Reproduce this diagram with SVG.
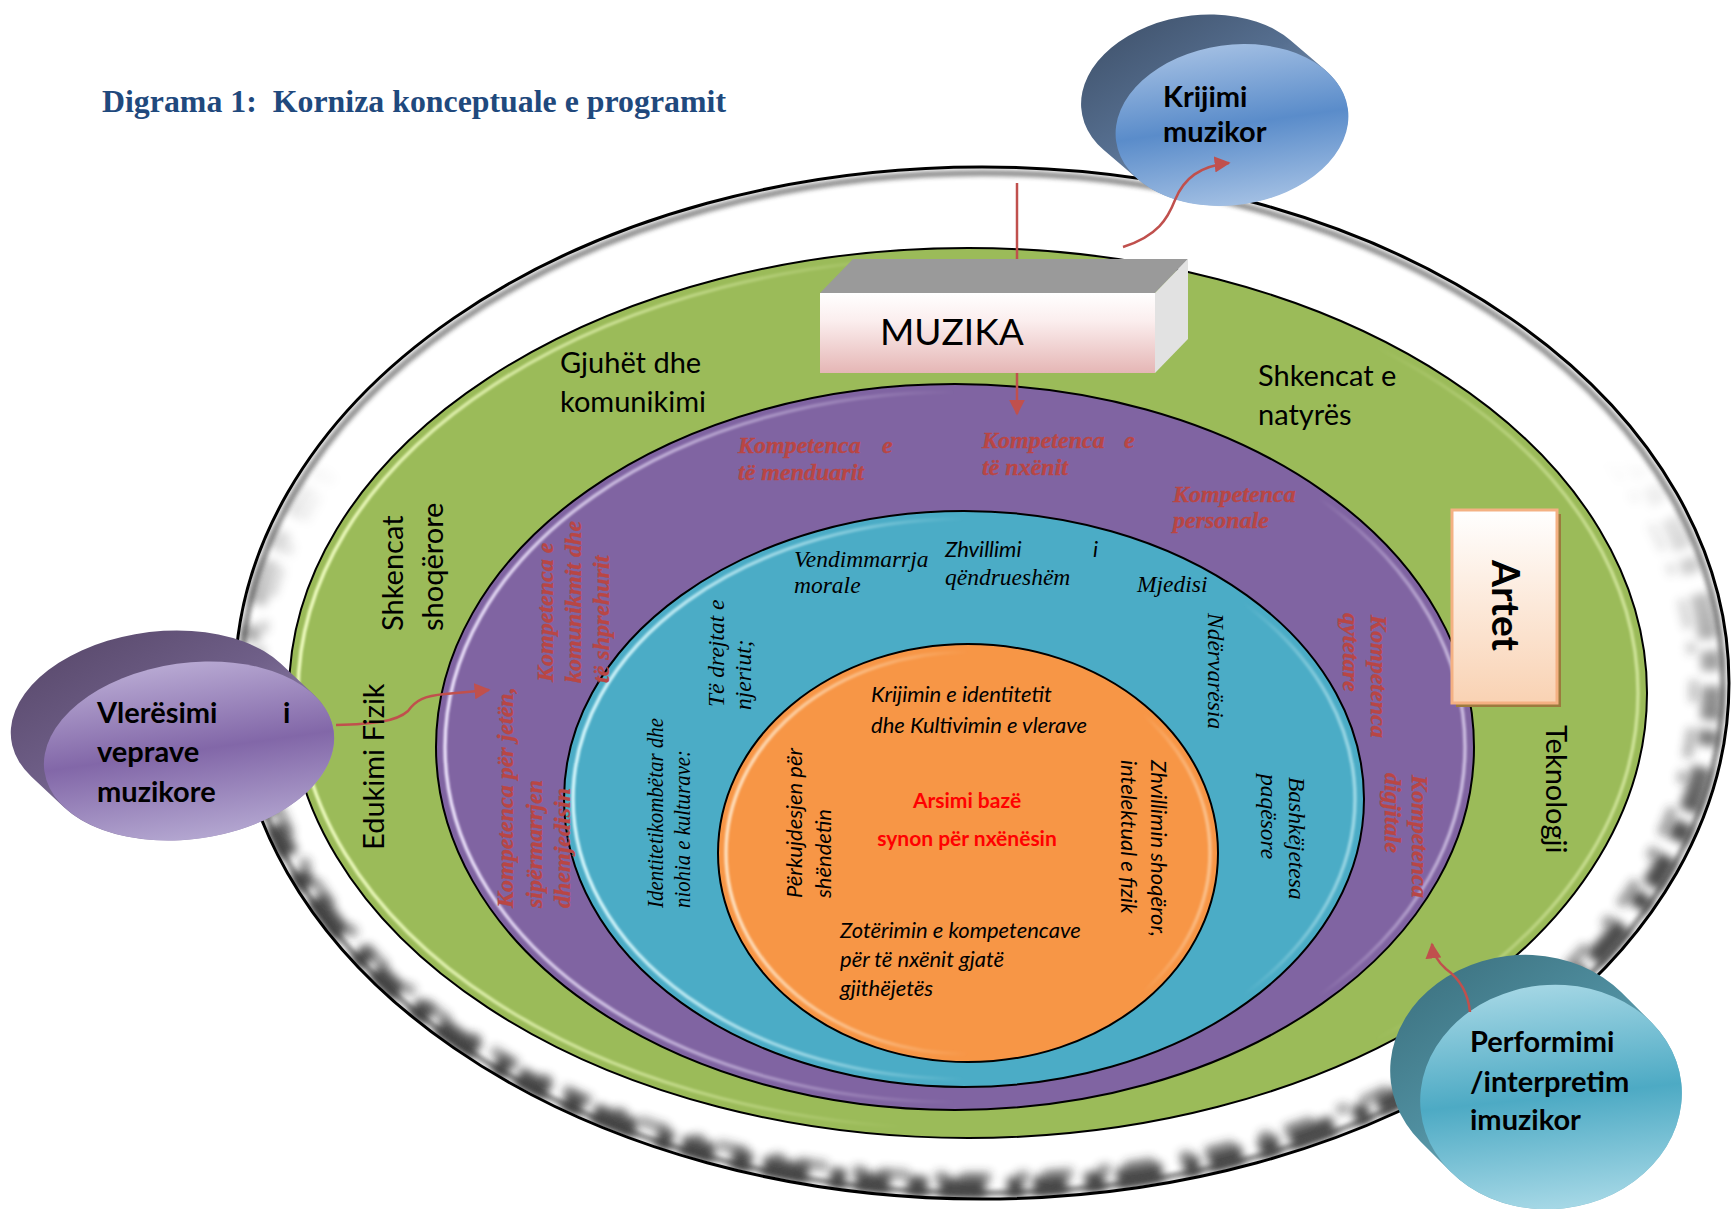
<svg xmlns="http://www.w3.org/2000/svg" width="1733" height="1209" viewBox="0 0 1733 1209">
<defs>
<style>
.lbl{font-family:Lato,"Open Sans","Liberation Sans",sans-serif;font-size:29px;fill:#000}
.comp{font-family:"Liberation Serif","Times New Roman",serif;font-style:italic;font-weight:bold;font-size:24px;fill:#B94644;stroke:#B94644;stroke-width:0.35px}
.val{font-family:"Liberation Serif","Times New Roman",serif;font-style:italic;font-size:23.5px;fill:#000}
.core{font-family:Lato,"Open Sans",sans-serif;font-style:italic;font-size:22px;fill:#000}
.core-red{font-family:Lato,"Open Sans",sans-serif;font-weight:bold;font-size:21px;fill:#FF0000;text-anchor:middle}
.node{font-family:Lato,"Open Sans",sans-serif;font-weight:bold;font-size:29px;fill:#000}
.ring{stroke:#000;stroke-width:2}
.conn{fill:none;stroke:#C0504D;stroke-width:2.5}
.hl{fill:none;stroke-width:3.5}
</style>
<filter id="b2" x="-5%" y="-5%" width="110%" height="110%"><feGaussianBlur stdDeviation="2"/></filter>
<filter id="b5" x="-5%" y="-5%" width="110%" height="110%"><feGaussianBlur stdDeviation="5"/></filter>
<filter id="b1" x="-5%" y="-5%" width="110%" height="110%"><feGaussianBlur stdDeviation="1.2"/></filter>
<clipPath id="outerClip"><ellipse cx="982" cy="683" rx="746" ry="515"/></clipPath>
<linearGradient id="maskGrad" gradientUnits="userSpaceOnUse" x1="0" y1="0" x2="0" y2="1209">
<stop offset="0" stop-color="#000"/><stop offset="0.38" stop-color="#000"/><stop offset="0.7" stop-color="#fff"/><stop offset="1" stop-color="#fff"/>
</linearGradient>
<mask id="lowerMask" maskUnits="userSpaceOnUse" x="0" y="0" width="1733" height="1209"><rect width="1733" height="1209" fill="url(#maskGrad)"/></mask>
<linearGradient id="hlG" gradientUnits="userSpaceOnUse" x1="289" y1="0" x2="1647" y2="0">
<stop offset="0" stop-color="#F2FFC4" stop-opacity="0.95"/><stop offset="0.25" stop-color="#F2FFC4" stop-opacity="0.5"/><stop offset="0.45" stop-color="#F2FFC4" stop-opacity="0"/><stop offset="0.8" stop-color="#F2FFC4" stop-opacity="0"/><stop offset="1" stop-color="#F2FFC4" stop-opacity="0.6"/>
</linearGradient>
<linearGradient id="hlP" gradientUnits="userSpaceOnUse" x1="436" y1="0" x2="1474" y2="0">
<stop offset="0" stop-color="#F1E8FF" stop-opacity="0.95"/><stop offset="0.3" stop-color="#F1E8FF" stop-opacity="0.4"/><stop offset="0.5" stop-color="#F1E8FF" stop-opacity="0"/><stop offset="0.85" stop-color="#F1E8FF" stop-opacity="0"/><stop offset="1" stop-color="#F1E8FF" stop-opacity="0.7"/>
</linearGradient>
<linearGradient id="hlB" gradientUnits="userSpaceOnUse" x1="564" y1="0" x2="1364" y2="0">
<stop offset="0" stop-color="#DDFBFF" stop-opacity="0.95"/><stop offset="0.3" stop-color="#DDFBFF" stop-opacity="0.5"/><stop offset="0.5" stop-color="#DDFBFF" stop-opacity="0"/><stop offset="0.85" stop-color="#DDFBFF" stop-opacity="0"/><stop offset="1" stop-color="#DDFBFF" stop-opacity="0.6"/>
</linearGradient>
<linearGradient id="hlO" gradientUnits="userSpaceOnUse" x1="718" y1="0" x2="1218" y2="0">
<stop offset="0" stop-color="#FFE6C8" stop-opacity="0.95"/><stop offset="0.3" stop-color="#FFE6C8" stop-opacity="0.4"/><stop offset="0.5" stop-color="#FFE6C8" stop-opacity="0"/><stop offset="0.85" stop-color="#FFE6C8" stop-opacity="0"/><stop offset="1" stop-color="#FFE6C8" stop-opacity="0.6"/>
</linearGradient>
<linearGradient id="muzG" x1="0" y1="0" x2="0" y2="1">
<stop offset="0" stop-color="#FFFFFF"/><stop offset="0.35" stop-color="#FBEEEE"/><stop offset="1" stop-color="#E5B6B5"/>
</linearGradient>
<linearGradient id="artG" x1="0" y1="0" x2="0" y2="1">
<stop offset="0" stop-color="#FFFFFF"/><stop offset="1" stop-color="#F9D2B3"/>
</linearGradient>
<linearGradient id="kSide" x1="0" y1="0" x2="0.6" y2="1">
<stop offset="0" stop-color="#3E5069"/><stop offset="0.5" stop-color="#566F90"/><stop offset="1" stop-color="#8AA4C6"/>
</linearGradient>
<linearGradient id="kFront" x1="0" y1="0" x2="0" y2="1">
<stop offset="0" stop-color="#A0BDE2"/><stop offset="0.5" stop-color="#5A8CCA"/><stop offset="1" stop-color="#A2BFE3"/>
</linearGradient>
<linearGradient id="vSide" x1="0" y1="0" x2="0.6" y2="1">
<stop offset="0" stop-color="#574769"/><stop offset="0.5" stop-color="#6F5F88"/><stop offset="1" stop-color="#9D8FB8"/>
</linearGradient>
<linearGradient id="vFront" x1="0" y1="0" x2="0" y2="1">
<stop offset="0" stop-color="#B7A8D2"/><stop offset="0.5" stop-color="#8267A8"/><stop offset="1" stop-color="#B3A6D0"/>
</linearGradient>
<linearGradient id="pSide" x1="0" y1="0" x2="0.6" y2="1">
<stop offset="0" stop-color="#3A6E7C"/><stop offset="0.5" stop-color="#4F8E9F"/><stop offset="1" stop-color="#86C0CF"/>
</linearGradient>
<linearGradient id="pFront" x1="0" y1="0" x2="0" y2="1">
<stop offset="0" stop-color="#A3D6E4"/><stop offset="0.5" stop-color="#4DAAC4"/><stop offset="1" stop-color="#A6D8E6"/>
</linearGradient>
<marker id="arr" viewBox="0 0 10 10" refX="9" refY="5" markerWidth="16" markerHeight="16" markerUnits="userSpaceOnUse" orient="auto">
<path d="M0,0 L10,5 L0,10 z" fill="#C0504D"/>
</marker>
</defs>

<rect width="1733" height="1209" fill="#FFFFFF"/>

<text id="title" x="102" y="112" font-family="'Liberation Serif','Times New Roman',serif" font-weight="bold" font-size="32" fill="#1F497D" textLength="624" lengthAdjust="spacingAndGlyphs" xml:space="preserve">Digrama 1:  Korniza konceptuale e programit</text>

<g id="ring-outer">
<ellipse cx="982" cy="683" rx="747" ry="516" fill="#FFFFFF"/>
<g clip-path="url(#outerClip)">
<g mask="url(#lowerMask)">
<ellipse cx="979" cy="686" rx="733" ry="502" fill="none" stroke="#000" stroke-width="20" stroke-dasharray="34 10 16 22 46 12 20 18" filter="url(#b5)" opacity="0.7"/>
<ellipse cx="976" cy="690" rx="718" ry="487" fill="none" stroke="#222" stroke-width="10" stroke-dasharray="12 26 30 14" filter="url(#b5)" opacity="0.45"/>
</g>
<ellipse cx="982" cy="683" rx="741" ry="510" fill="none" stroke="#333" stroke-width="6" filter="url(#b2)" opacity="0.55"/>
</g>
<ellipse cx="982" cy="683" rx="747" ry="516" fill="none" stroke="#000" stroke-width="3"/>
</g>

<g id="ring-green">
<ellipse class="ring" cx="968" cy="693" rx="679" ry="445" fill="#9BBB59"/>
<ellipse class="hl" cx="968" cy="693" rx="670" ry="436" stroke="url(#hlG)" filter="url(#b1)"/>
</g>
<g id="ring-purple">
<ellipse class="ring" cx="955" cy="747" rx="519" ry="363" fill="#8064A2"/>
<ellipse class="hl" cx="955" cy="747" rx="510" ry="355" stroke="url(#hlP)" filter="url(#b1)"/>
</g>
<g id="ring-blue">
<ellipse class="ring" cx="964" cy="799" rx="400" ry="288" fill="#4BACC6"/>
<ellipse class="hl" cx="964" cy="799" rx="391" ry="280" stroke="url(#hlB)" filter="url(#b1)"/>
</g>
<g id="ring-orange">
<ellipse class="ring" cx="968" cy="853" rx="250" ry="209" fill="#F79646"/>
<ellipse class="hl" cx="968" cy="853" rx="242" ry="201" stroke="url(#hlO)" filter="url(#b1)"/>
</g>

<g id="node-krijimi">
<g transform="translate(1232,125) rotate(-8)">
<path d="M100.2,-41.3 A117,80 0 0 1 -100.2,41.3 L-130.7,6.7 A117,80 0 0 1 69.7,-75.9 Z" fill="url(#kSide)"/>
<ellipse cx="0" cy="0" rx="117" ry="80" fill="url(#kFront)"/>
</g>
<text class="node" x="1163" y="107">Krijimi</text>
<text class="node" x="1163" y="142">muzikor</text>
</g>

<g id="node-vleresimi">
<g transform="translate(189,751) rotate(-8)">
<path d="M131.4,-38.5 A146,88 0 0 1 -131.4,38.5 L-159.8,3.2 A146,88 0 0 1 103,-73.8 Z" fill="url(#vSide)"/>
<ellipse cx="0" cy="0" rx="146" ry="88" fill="url(#vFront)"/>
</g>
<text class="node" x="97" y="723">Vlerësimi<tspan x="283">i</tspan></text>
<text class="node" x="97" y="762">veprave</text>
<text class="node" x="97" y="802">muzikore</text>
</g>

<g id="node-performimi">
<g transform="translate(1551,1097) rotate(-6)">
<path d="M107.6,-63.9 A131,112 0 0 1 -107.6,63.9 L-134.3,31 A131,112 0 0 1 80.9,-96.8 Z" fill="url(#pSide)"/>
<ellipse cx="0" cy="0" rx="131" ry="112" fill="url(#pFront)"/>
</g>
<text class="node" x="1470" y="1052">Performimi</text>
<text class="node" x="1470" y="1092">/interpretim</text>
<text class="node" x="1470" y="1130">imuzikor</text>
</g>

<g id="connectors">
<path class="conn" d="M1017,183 L1017,414" marker-end="url(#arr)"/>
<path class="conn" d="M1123,247 C1158,236 1168,218 1175,200 C1184,178 1200,166 1229,163" marker-end="url(#arr)"/>
<path class="conn" d="M336,725 C372,724 396,722 408,711 C416,700 424,696 445,694 L489,690" marker-end="url(#arr)"/>
<path class="conn" d="M1470,1012 C1468,992 1460,979 1446,969 C1438,962 1433,954 1432,944" marker-end="url(#arr)"/>
</g>

<g id="node-muzika">
<polygon points="820,293 853,259 1188,259 1155,293" fill="#9A9A9A"/>
<polygon points="1155,293 1188,259 1188,339 1155,373" fill="#E2E2E2"/>
<rect x="820" y="293" width="335" height="80" fill="url(#muzG)"/>
<text x="880" y="345" font-family="Lato,'Open Sans',sans-serif" font-size="37" fill="#000">MUZIKA</text>
</g>

<g id="node-artet">
<rect x="1456" y="514" width="105" height="193" fill="#9C7A3E"/>
<rect x="1452" y="510" width="105" height="193" fill="url(#artG)" stroke="#F4B183" stroke-width="3"/>
<text transform="translate(1492,560) rotate(90)" font-family="Lato,'Open Sans',sans-serif" font-weight="bold" font-size="39" fill="#000">Artet</text>
</g>

<g id="labels-green">
<text class="lbl" x="560" y="373">Gjuhët dhe</text>
<text class="lbl" x="560" y="412">komunikimi</text>
<text class="lbl" x="1258" y="386">Shkencat e</text>
<text class="lbl" x="1258" y="425">natyrës</text>
<text class="lbl" transform="translate(403,631) rotate(-90)">Shkencat</text>
<text class="lbl" transform="translate(443,631) rotate(-90)">shoqërore</text>
<text class="lbl" transform="translate(384,850) rotate(-90)">Edukimi Fizik</text>
<text class="lbl" transform="translate(1546,725) rotate(90)">Teknologji</text>
</g>

<g id="labels-purple">
<text class="comp" x="738" y="453">Kompetenca<tspan x="882">e</tspan></text>
<text class="comp" x="738" y="480">të menduarit</text>
<text class="comp" x="982" y="448">Kompetenca<tspan x="1124">e</tspan></text>
<text class="comp" x="982" y="475">të nxënit</text>
<text class="comp" x="1173" y="502">Kompetenca</text>
<text class="comp" x="1173" y="528">personale</text>
<text class="comp" transform="translate(553,682) rotate(-90)">Kompetenca e</text>
<text class="comp" transform="translate(581,683) rotate(-90)">komunikmit dhe</text>
<text class="comp" transform="translate(609,683) rotate(-90)">të shprehurit</text>
<text class="comp" transform="translate(513,908) rotate(-90)">Kompetenca për jetën,</text>
<text class="comp" transform="translate(542,908) rotate(-90)">sipërmarrjen</text>
<text class="comp" transform="translate(570,908) rotate(-90)">dhemjedisin</text>
<text class="comp" transform="translate(1371,615) rotate(90)">Kompetenca</text>
<text class="comp" transform="translate(1343,613) rotate(90)">qytetare</text>
<text class="comp" transform="translate(1412,775) rotate(90)">Kompetenca</text>
<text class="comp" transform="translate(1385,773) rotate(90)">digjitale</text>
</g>

<g id="labels-blue">
<text class="val" x="794" y="567">Vendimmarrja</text>
<text class="val" x="794" y="593">morale</text>
<text class="core" x="945" y="557" font-size="23">Zhvillimi<tspan x="1093">i</tspan></text>
<text class="val" x="945" y="585">qëndrueshëm</text>
<text class="val" x="1137" y="592">Mjedisi</text>
<text class="val" transform="translate(1208,613) rotate(90)">Ndërvarësia</text>
<text class="val" transform="translate(1289,777) rotate(90)">Bashkëjetesa</text>
<text class="val" transform="translate(1261,774) rotate(90)">paqësore</text>
<text class="val" transform="translate(724,707) rotate(-90)">Të drejtat e</text>
<text class="val" transform="translate(751,710) rotate(-90)">njeriut;</text>
<text class="val" font-size="20" textLength="190" lengthAdjust="spacingAndGlyphs" transform="translate(663,908) rotate(-90)">Identitetikombëtar dhe</text>
<text class="val" font-size="20" textLength="158" lengthAdjust="spacingAndGlyphs" transform="translate(690,908) rotate(-90)">niohia e kulturave:</text>
</g>

<g id="labels-orange">
<text class="core" x="871" y="702">Krijimin e identitetit</text>
<text class="core" x="871" y="733">dhe Kultivimin e vlerave</text>
<text class="core-red" x="967" y="808">Arsimi bazë</text>
<text class="core-red" x="967" y="846">synon për nxënësin</text>
<text class="core" transform="translate(802,898) rotate(-90)">Përkujdesjen për</text>
<text class="core" transform="translate(831,898) rotate(-90)">shëndetin</text>
<text class="core" transform="translate(1151,760) rotate(90)">Zhvillimin shoqëror,</text>
<text class="core" transform="translate(1121,760) rotate(90)">intelektual e fizik</text>
<text class="core" x="840" y="938">Zotërimin e kompetencave</text>
<text class="core" x="840" y="967">për të nxënit gjatë</text>
<text class="core" x="840" y="996">gjithëjetës</text>
</g>
</svg>
